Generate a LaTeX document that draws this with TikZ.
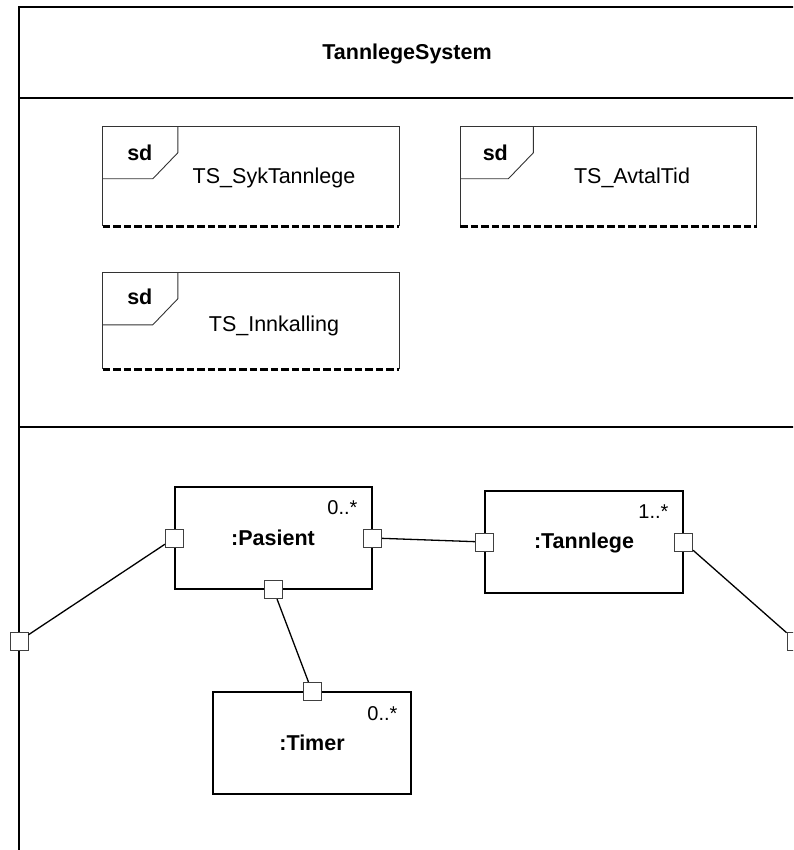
\documentclass[tikz,border=0pt]{standalone}
\usepackage{fontspec}
\setmainfont{Liberation Sans}
\begin{document}
\begin{tikzpicture}[x=1pt,y=-1pt,
  frameline/.style={line width=1.8pt,black},
  sdside/.style={draw=black!80,line width=0.9pt},
  sddash/.style={line width=3.4pt,dash pattern=on 7.5pt off 3pt},
  sdarea/.style={inner sep=0pt,minimum width=296pt,minimum height=99pt},
  sdtxt/.style={font=\fontsize{21.5}{25}\selectfont,anchor=base,inner sep=0pt},
  sdtag/.style={font=\fontsize{21.5}{25}\selectfont\bfseries,anchor=base,inner sep=0pt},
  part/.style={draw,line width=1.4pt,minimum width=198pt,minimum height=102pt,inner sep=0pt},
  partname/.style={font=\fontsize{21.5}{25}\selectfont\bfseries,anchor=base,inner sep=0pt},
  mult/.style={font=\fontsize{20}{24}\selectfont,anchor=base east,inner sep=0pt},
  port/.style={draw=black!75,fill=white,line width=0.8pt,minimum size=18pt,inner sep=0pt},
  conn/.style={line width=1.3pt}]
\useasboundingbox (0,0) rectangle (793,850);
\clip (0,0) rectangle (793,850);

% enclosing structured classifier with its compartments
\draw[frameline] (19,7) rectangle (797,900);
\draw[frameline] (19,98) -- (797,98);
\draw[frameline] (19,427) -- (797,427);
\node[font=\fontsize{21.5}{25}\selectfont\bfseries,anchor=base,inner sep=0pt] (title) at (407,60) {TannlegeSystem};

% interaction references
\node[sdarea] (syk) at (251,176.5) {};
\node[sdarea] (avtal) at (608.5,176.5) {};
\node[sdarea,minimum height=96pt] (innk) at (251,321) {};

\foreach \b/\tab in {syk/75,avtal/73,innk/75}{
  \draw[sdside] (\b.south west) |- (\b.north east) -- (\b.south east);
  \draw[sddash] (\b.south west) -- (\b.south east);
  \draw[sdside] ([xshift=\tab pt]\b.north west) -- ++(0,26) -- ++(-25,26) -- ++(-\tab+25,0);
}
\node[sdtag] (sdA) at ([xshift=37pt,yshift=-34pt]syk.north west) {sd};
\node[sdtag] (sdB) at ([xshift=35pt,yshift=-34pt]avtal.north west) {sd};
\node[sdtag] (sdC) at ([xshift=37pt,yshift=-32pt]innk.north west) {sd};
\node[sdtxt] (sykT) at (274,184) {TS\_SykTannlege};
\node[sdtxt] (avtalT) at (632,184) {TS\_AvtalTid};
\node[sdtxt] (innkT) at (274,331) {TS\_Innkalling};

% parts
\node[part,minimum width=197pt] (pasient) at (273.5,538) {};
\node[part] (tannlege) at (584,542) {};
\node[part] (timer) at (312,743) {};
\node[partname] (pasientN) at (273,545) {:Pasient};
\node[partname] (tannlegeN) at (584,548) {:Tannlege};
\node[partname] (timerN) at (312,750) {:Timer};
\node[mult] (pasientM) at ([xshift=-15pt,yshift=-28pt]pasient.north east) {0..*};
\node[mult] (tannlegeM) at ([xshift=-15pt,yshift=-28pt]tannlege.north east) {1..*};
\node[mult] (timerM) at ([xshift=-14pt,yshift=-29pt]timer.north east) {0..*};

% ports
\node[port] (pl) at (pasient.west) {};
\node[port] (pr) at (pasient.east) {};
\node[port] (pb) at (pasient.south) {};
\node[port] (tl) at (tannlege.west) {};
\node[port] (tr) at (tannlege.east) {};
\node[port] (mt) at (timer.north) {};
\node[port] (fl) at (19,641) {};
\node[port] (fr) at (796,641) {};

% connectors
\draw[conn] (pl) -- (fl);
\draw[conn] (pr) -- (tl);
\draw[conn] (pb) -- (mt);
\draw[conn] (tr) -- (fr);
\end{tikzpicture}
\end{document}
